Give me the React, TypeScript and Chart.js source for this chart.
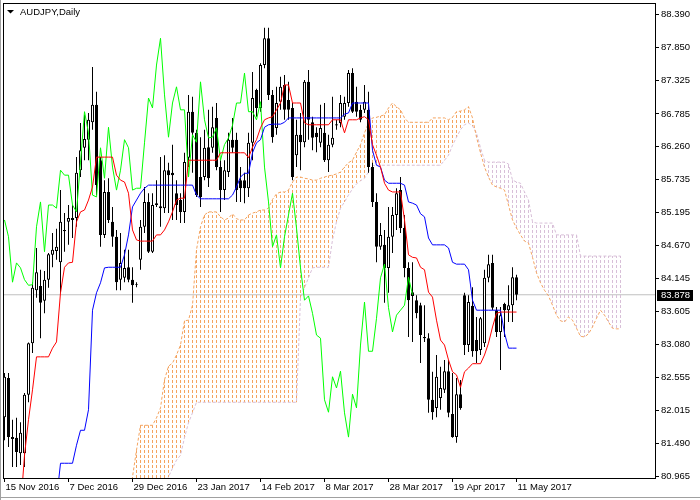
import React, { useEffect, useRef } from "react";
import { Chart, registerables } from "chart.js";

Chart.register(...registerables);

const symbolTitle = "AUDJPY,Daily";
const dateLabels = ["15 Nov 2016", "7 Dec 2016", "29 Dec 2016", "23 Jan 2017", "14 Feb 2017", "8 Mar 2017", "28 Mar 2017", "19 Apr 2017", "11 May 2017"];
const dateTickBars = [0, 16, 32, 48, 64, 80, 96, 112, 128];
const priceTicks = [88.39, 87.85, 87.325, 86.785, 86.26, 85.735, 85.195, 84.67, 84.145, 83.605, 83.08, 82.555, 82.015, 81.49, 80.965];
const lastPrice = 83.878;

const opens = [
  81.91, 82.54, 81.59, 81.58, 81.33, 81.33, 82.27, 83.10, 83.95, 84.02,
  83.78, 84.12, 84.52, 84.58, 84.40, 84.92, 85.05, 85.11, 85.11, 85.88,
  86.24, 86.37, 86.65, 86.93, 86.04, 84.84, 85.53, 85.05, 84.81, 84.12,
  84.15, 84.32, 84.12, 84.05, 84.44, 84.97, 85.37, 84.57, 85.35, 85.30,
  85.27, 85.88, 85.84, 85.51, 85.40, 85.21, 86.08, 86.82, 86.48, 85.77,
  85.77, 86.25, 86.24, 86.72, 85.93, 85.56, 85.85, 86.37, 86.37, 85.72,
  85.72, 85.59, 86.32, 87.17, 86.88, 87.57, 88.00, 87.09, 86.56, 86.98,
  87.25, 87.01, 86.88, 86.12, 86.45, 86.33, 87.30, 86.65, 86.48, 86.32,
  86.48, 86.04, 86.29, 86.62, 86.64, 86.74, 86.96, 87.44, 86.98, 86.85,
  86.85, 86.85, 85.93, 85.37, 84.65, 84.68, 84.31, 84.81, 85.16, 85.56,
  84.95, 84.31, 83.92, 83.79, 83.71, 83.20, 83.18, 82.19, 82.06, 82.22,
  82.35, 82.65, 81.96, 81.59, 82.28, 83.87, 83.07, 83.70, 83.15, 82.99,
  83.10, 84.15, 84.39, 83.63, 83.28, 83.73, 83.63, 83.71, 84.16,
];
const highs = [
  82.62, 82.62, 81.87, 81.90, 81.83, 82.30, 83.11, 84.08, 84.63, 84.28,
  84.26, 84.55, 84.87, 84.94, 85.56, 85.19, 85.32, 85.32, 86.09, 86.64,
  86.77, 86.80, 87.54, 87.14, 86.09, 85.72, 85.75, 85.29, 84.92, 84.87,
  84.60, 84.60, 84.32, 84.08, 85.08, 85.61, 85.51, 85.51, 85.72, 86.09,
  86.12, 86.00, 86.29, 85.72, 85.51, 86.16, 87.09, 87.06, 86.53, 86.41,
  86.53, 86.85, 86.90, 86.96, 86.04, 86.04, 86.48, 86.72, 86.48, 85.93,
  85.84, 86.48, 87.46, 87.19, 87.60, 88.17, 88.17, 87.17, 87.22, 87.38,
  87.41, 87.30, 86.96, 86.69, 86.80, 87.33, 87.49, 86.74, 86.57, 86.93,
  86.96, 86.45, 87.06, 86.69, 87.09, 87.06, 87.49, 87.52, 87.22, 86.93,
  87.25, 87.14, 86.00, 85.51, 85.03, 84.92, 85.29, 85.29, 85.59, 85.77,
  85.16, 84.40, 84.40, 83.87, 83.75, 83.71, 83.26, 82.64, 82.91, 82.72,
  82.83, 82.83, 82.62, 82.54, 82.51, 83.91, 83.87, 84.00, 83.52, 83.52,
  84.28, 84.52, 84.52, 83.68, 83.68, 83.75, 84.03, 84.32, 84.20,
];
const lows = [
  81.54, 81.43, 81.11, 81.11, 81.14, 81.11, 82.15, 82.94, 83.83, 83.18,
  83.58, 83.99, 84.32, 84.44, 83.91, 84.57, 84.68, 84.79, 84.97, 85.77,
  86.04, 86.04, 86.53, 85.48, 84.65, 84.79, 85.03, 84.65, 83.95, 83.95,
  84.08, 84.08, 83.75, 84.00, 84.28, 84.87, 84.55, 84.55, 85.29, 84.97,
  85.19, 85.19, 85.08, 85.08, 85.03, 85.03, 85.93, 85.84, 85.45, 85.29,
  85.72, 85.61, 86.16, 85.88, 85.21, 85.40, 85.77, 86.16, 85.37, 85.37,
  85.35, 85.45, 86.04, 86.74, 86.82, 87.52, 87.01, 86.32, 86.45, 86.85,
  86.69, 86.69, 85.72, 85.93, 85.88, 86.25, 86.37, 86.20, 86.17, 86.25,
  86.01, 85.85, 86.25, 86.53, 86.57, 86.69, 86.90, 86.80, 86.74, 86.65,
  86.80, 85.84, 85.29, 84.40, 84.60, 83.75, 83.91, 84.55, 84.92, 84.87,
  84.16, 83.20, 83.12, 83.50, 82.78, 83.12, 81.98, 81.87, 81.91, 82.03,
  82.30, 81.91, 81.58, 81.50, 82.03, 82.91, 82.96, 82.88, 82.78, 82.91,
  83.04, 84.08, 83.63, 83.20, 82.67, 83.20, 83.44, 83.44, 83.79,
];
const closes = [
  82.56, 81.59, 81.56, 81.35, 81.66, 82.27, 83.10, 83.99, 84.24, 83.75,
  84.12, 84.53, 84.60, 84.65, 85.05, 84.90, 85.11, 85.08, 85.84, 86.20,
  86.38, 86.69, 86.93, 85.64, 84.84, 85.53, 85.08, 84.81, 84.08, 84.39,
  84.31, 84.12, 84.03, 84.04, 84.97, 85.37, 84.57, 85.32, 85.32, 85.27,
  85.88, 85.80, 85.80, 85.32, 85.21, 86.01, 86.82, 86.48, 85.48, 85.45,
  86.24, 85.75, 86.57, 85.93, 85.56, 85.88, 86.37, 86.24, 85.56, 85.59,
  85.59, 86.32, 87.04, 86.88, 87.57, 88.00, 87.09, 86.41, 86.96, 87.22,
  86.85, 86.85, 85.77, 86.45, 86.33, 87.30, 86.69, 86.40, 86.41, 86.56,
  86.04, 86.29, 86.40, 86.60, 86.96, 86.96, 87.44, 86.82, 86.82, 86.69,
  86.98, 85.93, 85.37, 84.65, 84.84, 84.31, 84.81, 85.16, 85.51, 84.95,
  84.31, 83.79, 83.86, 83.58, 83.23, 83.18, 82.19, 81.99, 82.56, 82.38,
  82.65, 81.98, 81.59, 82.28, 82.06, 83.07, 83.76, 82.97, 82.97, 83.50,
  84.15, 84.37, 83.67, 83.28, 83.55, 83.63, 83.71, 84.16, 83.878,
];

const tenkan = [
  null, null, null, null, 80.42, 81.30, 81.87, 82.35, 82.88, 82.88,
  82.88, 82.88, 83.02, 83.12, 83.91, 84.32, 84.39, 84.40, 85.05, 85.21,
  85.24, 85.40, 85.61, 86.09, 86.09, 86.09, 86.09, 86.09, 85.80, 85.72,
  85.69, 85.51, 84.92, 84.76, 84.74, 84.74, 84.74, 84.74, 84.84, 84.84,
  84.92, 85.05, 85.21, 85.40, 85.43, 85.43, 86.04, 86.04, 86.04, 86.04,
  86.04, 86.04, 86.04, 86.04, 86.16, 86.16, 86.16, 86.16, 86.16, 86.16,
  86.16, 86.08, 86.25, 86.37, 86.56, 86.69, 86.72, 86.74, 86.85, 86.96,
  87.25, 87.25, 86.96, 86.96, 86.96, 86.64, 86.61, 86.61, 86.61, 86.61,
  86.61, 86.61, 86.69, 86.69, 86.69, 86.48, 86.69, 86.69, 86.69, 86.72,
  86.74, 86.69, 86.29, 86.12, 85.93, 85.67, 85.56, 85.53, 85.53, 85.53,
  85.08, 84.52, 84.48, 84.47, 84.32, 84.28, 83.92, 83.84, 83.47, 83.15,
  83.07, 82.83, 82.64, 82.59, 82.39, 82.64, 82.70, 82.77, 82.77, 82.77,
  82.91, 83.10, 83.36, 83.58, 83.60, 83.60, 83.60, 83.60, 83.60,
];
const kijun = [
  null, null, null, null, null, null, null, null, null, null,
  null, null, null, 80.58, 81.17, 81.17, 81.17, 81.17, 81.46, 81.70,
  81.70, 82.03, 83.63, 83.91, 84.07, 84.31, 84.32, 84.32, 84.32, 84.32,
  84.52, 84.84, 85.29, 85.40, 85.51, 85.59, 85.64, 85.64, 85.64, 85.64,
  85.64, 85.64, 85.64, 85.64, 85.64, 85.64, 85.64, 85.64, 85.48, 85.42,
  85.42, 85.42, 85.42, 85.42, 85.42, 85.42, 85.42, 85.48, 85.61, 85.77,
  85.83, 85.83, 86.16, 86.32, 86.37, 86.57, 86.61, 86.62, 86.62, 86.62,
  86.65, 86.72, 86.72, 86.72, 86.72, 86.72, 86.72, 86.72, 86.72, 86.72,
  86.72, 86.72, 86.72, 86.72, 86.72, 86.78, 86.80, 86.96, 86.96, 86.96,
  86.96, 86.96, 86.20, 85.96, 85.93, 85.72, 85.67, 85.67, 85.67, 85.67,
  85.64, 85.37, 85.35, 85.32, 85.18, 85.13, 84.79, 84.68, 84.68, 84.68,
  84.68, 84.63, 84.40, 84.37, 84.37, 84.37, 84.28, 83.79, 83.63, 83.63,
  83.63, 83.63, 83.63, 83.63, 83.63, 83.26, 83.02, 83.02, 83.02,
];

const cloudStart = 31;
const spanA = [
  80.50, 80.95, 81.38, 81.78, 81.78, 81.78, 81.78, 81.90, 82.06,
  82.51, 82.73, 82.78, 82.91, 83.07, 83.46, 83.47, 83.71, 84.60, 84.97,
  85.16, 85.21, 85.21, 85.21, 85.13, 85.08, 85.11, 85.18, 85.10, 85.08,
  85.08, 85.16, 85.19, 85.21, 85.24, 85.24, 85.27, 85.41, 85.50, 85.53,
  85.53, 85.56, 85.69, 85.77, 85.77, 85.75, 85.74, 85.72, 85.72, 85.75,
  85.77, 85.79, 85.80, 85.82, 85.85, 85.93, 86.00, 86.04, 86.17, 86.29,
  86.48, 86.64, 86.72, 86.73, 86.75, 86.77, 86.88, 86.96, 86.90, 86.85,
  86.72, 86.65, 86.65, 86.65, 86.65, 86.65, 86.65, 86.72, 86.72, 86.72,
  86.72, 86.69, 86.73, 86.82, 86.83, 86.85, 86.90, 86.72, 86.41, 86.16,
  85.93, 85.77, 85.64, 85.61, 85.59, 85.56, 85.32, 85.08, 84.95, 84.84,
  84.74, 84.71, 84.48, 84.23, 84.07, 83.95, 83.86, 83.71, 83.55, 83.46,
  83.44, 83.52, 83.47, 83.34, 83.21, 83.20, 83.25, 83.36, 83.50, 83.63,
  83.55, 83.44, 83.34, 83.33, 83.33,
];
const spanB = [
  80.30, 80.30, 80.30, 80.30, 80.30, 80.30, 80.30, 80.30, 80.30,
  80.74, 80.95, 81.09, 81.22, 81.30, 81.58, 81.82, 81.98, 82.15, 82.15,
  82.15, 82.15, 82.15, 82.15, 82.15, 82.15, 82.15, 82.15, 82.15, 82.15,
  82.15, 82.15, 82.15, 82.15, 82.15, 82.15, 82.15, 82.15, 82.15, 82.15,
  82.15, 82.15, 82.15, 82.15, 83.83, 83.99, 84.15, 84.31, 84.32, 84.32,
  84.32, 84.32, 84.76, 85.05, 85.27, 85.37, 85.48, 85.58, 85.66, 85.71,
  85.75, 85.85, 85.95, 85.96, 85.96, 85.96, 85.96, 85.96, 85.96, 85.96,
  85.96, 85.96, 85.96, 85.96, 85.96, 85.96, 85.96, 85.96, 85.96, 85.96,
  86.04, 86.12, 86.28, 86.41, 86.53, 86.61, 86.64, 86.59, 86.48, 86.24,
  86.04, 86.01, 86.01, 86.01, 86.01, 86.01, 85.98, 85.72, 85.69, 85.67,
  85.53, 85.40, 85.05, 85.03, 85.03, 85.03, 85.03, 85.03, 84.84, 84.84,
  84.84, 84.84, 84.84, 84.84, 84.50, 84.50, 84.50, 84.50, 84.50, 84.50,
  84.50, 84.50, 84.50, 84.50, 84.50,
];

const X_MIN = -0.375;
const X_MAX = 162.625;
const FONT_FAMILY = "'Liberation Sans', Arial, sans-serif";
const FONT = { family: FONT_FAMILY, size: 9.5 };

function pts(arr: (number | null)[], offset = 0) {
  const out: { x: number; y: number }[] = [];
  arr.forEach((v, k) => {
    if (v !== null) out.push({ x: k + offset, y: v });
  });
  return out;
}

function hatchPattern(ctx: CanvasRenderingContext2D, color: string) {
  const c = document.createElement("canvas");
  c.width = 1;
  c.height = 5;
  const g = c.getContext("2d")!;
  g.fillStyle = color;
  g.fillRect(0, 0, 1, 3);
  return ctx.createPattern(c, "repeat");
}

const decorPlugin = {
  id: "decor",
  afterDraw(chart: any) {
    const { ctx, chartArea: a, scales } = chart;
    ctx.save();
    ctx.strokeStyle = "#000";
    ctx.lineWidth = 1;
    ctx.strokeRect(Math.round(a.left) + 0.5, Math.round(a.top) + 0.5, Math.round(a.right - a.left), Math.round(a.bottom - a.top));

    const y = scales.y.getPixelForValue(lastPrice);
    ctx.fillStyle = "#000";
    ctx.fillRect(Math.round(a.right) + 2, Math.round(y) - 5, 36, 11);
    ctx.fillStyle = "#fff";
    ctx.font = `9.5px ${FONT_FAMILY}`;
    ctx.textBaseline = "middle";
    ctx.textAlign = "left";
    ctx.fillText(lastPrice.toFixed(3), Math.round(a.right) + 6, Math.round(y) + 0.5);

    ctx.fillStyle = "#000";
    ctx.beginPath();
    ctx.moveTo(7, 10);
    ctx.lineTo(14, 10);
    ctx.lineTo(10.5, 13.5);
    ctx.closePath();
    ctx.fill();
    ctx.fillText(symbolTitle, 20, 12);

    ctx.strokeStyle = "#a0a0a0";
    ctx.beginPath();
    ctx.moveTo(0.5, 0);
    ctx.lineTo(0.5, 500);
    ctx.moveTo(0, 497.5);
    ctx.lineTo(700, 497.5);
    ctx.stroke();
    ctx.restore();
  },
};

export default function App() {
  const ref = useRef<HTMLCanvasElement>(null);

  useEffect(() => {
    const canvas = ref.current!;
    const ctx = canvas.getContext("2d")!;
    const orange = hatchPattern(ctx, "#f4a460");
    const lilac = hatchPattern(ctx, "#d8bfd8");
    const idx = closes.map((_, i) => i);
    const barCommon = {
      type: "bar",
      grouped: false,
      barPercentage: 1,
      categoryPercentage: 1,
      inflateAmount: 0,
      borderSkipped: false,
    };
    const lineCommon = {
      type: "line",
      pointRadius: 0,
      borderWidth: 1,
      tension: 0,
      fill: false,
    };

    const datasets: any[] = [
      { ...lineCommon, label: "price", data: [{ x: X_MIN, y: lastPrice }, { x: X_MAX, y: lastPrice }], borderColor: "#c0c0c0", order: 100 },
      {
        ...barCommon,
        label: "cloud",
        data: spanA.map((v, k) => ({ x: cloudStart + k, y: [spanB[k], v] })),
        backgroundColor: spanA.map((v, k) => (v >= spanB[k] ? orange : lilac)),
        borderWidth: 0,
        maxBarThickness: 1,
        order: 90,
      },
      { ...lineCommon, label: "spanA", data: pts(spanA, cloudStart), borderColor: "#f4a460", borderDash: [3, 2], order: 80 },
      { ...lineCommon, label: "spanB", data: pts(spanB, cloudStart), borderColor: "#d8bfd8", borderDash: [3, 2], order: 81 },
      {
        ...barCommon,
        label: "wicks",
        data: idx.map((i) => ({ x: i, y: [lows[i], highs[i]] })),
        backgroundColor: "#000",
        borderWidth: 0,
        maxBarThickness: 1,
        order: 60,
      },
      {
        ...barCommon,
        label: "bodies",
        data: idx.map((i) => ({ x: i, y: [opens[i], closes[i]] })),
        backgroundColor: idx.map((i) => (closes[i] > opens[i] ? "#ffffff" : "#000000")),
        borderColor: "#000",
        borderWidth: 1,
        maxBarThickness: 3,
        order: 50,
      },
      { ...lineCommon, label: "chikou", data: closes.slice(26).map((c, k) => ({ x: k, y: c })), borderColor: "#00ff00", order: 40 },
      { ...lineCommon, label: "kijun", data: pts(kijun), borderColor: "#0000ff", order: 30 },
      { ...lineCommon, label: "tenkan", data: pts(tenkan), borderColor: "#ff0000", order: 20 },
    ];

    const chart = new Chart(canvas, {
      type: "bar",
      data: { datasets },
      options: {
        animation: false,
        responsive: false,
        devicePixelRatio: 1,
        events: [],
        layout: { padding: { left: 3, top: 3, right: 0, bottom: 0 } },
        plugins: { legend: { display: false }, tooltip: { enabled: false }, title: { display: false } },
        scales: {
          x: {
            type: "linear",
            min: X_MIN,
            max: X_MAX,
            bounds: "data",
            offset: false,
            grid: { drawOnChartArea: false, drawTicks: true, tickLength: 4, color: "#000", offset: false },
            border: { display: true, color: "#000" },
            ticks: {
              align: "start",
              labelOffset: 1,
              padding: 0,
              maxRotation: 0,
              minRotation: 0,
              autoSkip: false,
              color: "#000",
              font: FONT,
              callback: (_v: any, i: number) => dateLabels[i],
            },
            afterBuildTicks: (s: any) => {
              s.ticks = dateTickBars.map((v) => ({ value: v }));
            },
            afterFit: (s: any) => {
              s.height = 22;
              s.paddingLeft = 0;
              s.paddingRight = 0;
            },
          },
          y: {
            type: "linear",
            position: "right",
            min: 80.933,
            max: 88.567,
            bounds: "data",
            beginAtZero: false,
            grid: { drawOnChartArea: false, drawTicks: true, tickLength: 4, color: "#000" },
            border: { display: true, color: "#000" },
            ticks: {
              padding: 2,
              autoSkip: false,
              color: "#000",
              font: FONT,
              callback: (v: any) => Number(v).toFixed(3),
            },
            afterBuildTicks: (s: any) => {
              s.ticks = priceTicks.slice().sort((a, b) => a - b).map((v) => ({ value: v }));
            },
            afterFit: (s: any) => {
              s.width = 45;
              s.paddingTop = 0;
              s.paddingBottom = 0;
            },
          },
        },
      } as any,
      plugins: [decorPlugin],
    } as any);

    return () => chart.destroy();
  }, []);

  return (
    <div style={{ position: "absolute", left: 0, top: 0, width: 700, height: 500, background: "#fff" }}>
      <canvas ref={ref} width={700} height={500} style={{ display: "block", width: 700, height: 500 }} />
    </div>
  );
}
